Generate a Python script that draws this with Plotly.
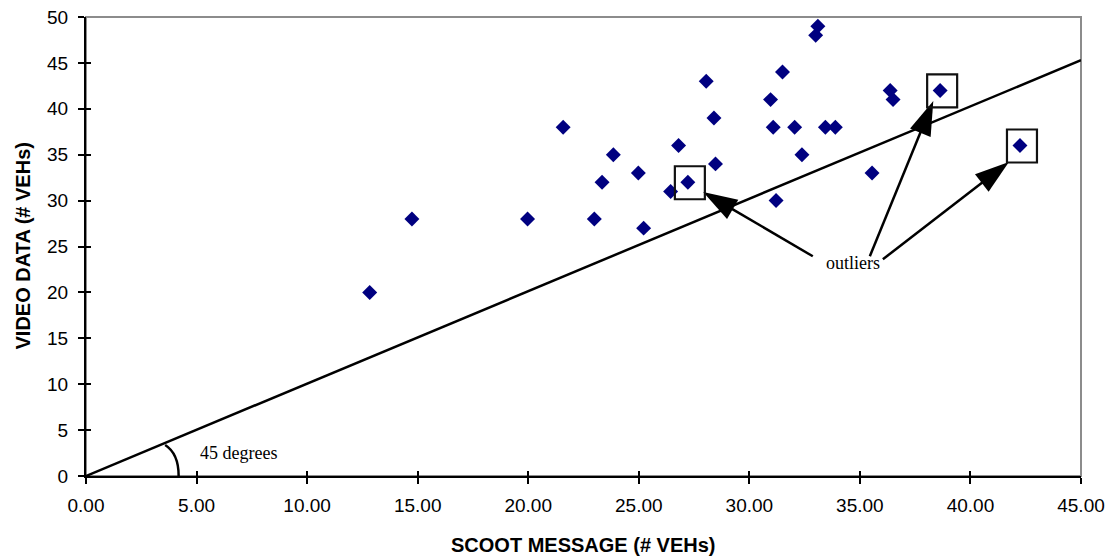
import plotly.graph_objects as go

# ---- data ----
scoot = [12.83, 14.74, 19.97, 21.58, 22.99, 23.34, 23.85, 24.98, 25.22, 26.44,
         26.80, 27.22, 28.05, 28.40, 28.47, 30.96, 31.08, 31.21, 31.50, 32.05,
         32.38, 33.00, 33.10, 33.44, 33.89, 35.55, 36.37, 36.50, 38.63, 42.24]
video = [20, 28, 28, 38, 28, 32, 35, 33, 27, 31,
         36, 32, 43, 39, 34, 41, 38, 30, 44, 38,
         35, 48, 49, 38, 38, 33, 42, 41, 42, 36]

outlier_x = [27.22, 38.63, 42.24]
outlier_y = [32, 42, 36]

ref_line_x = [0, 45]
ref_line_y = [0, 45.3]

# arrows: tail (near label) -> tip (at box)
arrow_tail_x = [32.87, 35.45, 36.04]
arrow_tail_y = [23.94, 23.94, 23.61]
arrow_tip_x = [27.91, 38.32, 41.74]
arrow_tip_y = [30.94, 40.84, 34.20]

x_ticks = [0, 5, 10, 15, 20, 25, 30, 35, 40, 45]
y_ticks = [0, 5, 10, 15, 20, 25, 30, 35, 40, 45, 50]

fig = go.Figure()

fig.add_trace(go.Scatter(x=ref_line_x, y=ref_line_y, mode="lines",
                         line=dict(color="black", width=2.5),
                         showlegend=False, hoverinfo="skip"))

fig.add_trace(go.Scatter(x=scoot, y=video, mode="markers",
                         marker=dict(symbol="diamond", size=11.5, color="#000080"),
                         showlegend=False))

# arrows
for tx, ty, hx, hy in zip(arrow_tail_x, arrow_tail_y, arrow_tip_x, arrow_tip_y):
    fig.add_trace(go.Scatter(x=[tx, hx], y=[ty, hy], mode="lines+markers",
                             line=dict(color="black", width=2.5),
                             marker=dict(symbol=["circle", "arrow"], size=[0, 36],
                                         angleref="previous", color="black",
                                         opacity=1, line=dict(width=0, color="black")),
                             showlegend=False, hoverinfo="skip"))

# dummy trace for overlay axes (inner half of cross ticks)
fig.add_trace(go.Scatter(x=[None], y=[None], xaxis="x2", yaxis="y2",
                         showlegend=False, hoverinfo="skip"))

# boxes round the outliers
for ox, oy in zip(outlier_x, outlier_y):
    fig.add_shape(type="rect", xref="x", yref="y",
                  xsizemode="pixel", ysizemode="pixel",
                  xanchor=ox, yanchor=oy,
                  x0=-13, x1=17, y0=-17, y1=16,
                  line=dict(color="#111111", width=2.2), fillcolor="rgba(0,0,0,0)")

# 45 degree arc
fig.add_shape(type="path", xref="x", yref="y",
              path="M 3.58,3.37 Q 4.19,2.43 4.19,0",
              line=dict(color="black", width=2.5))

# gray plot frame
fig.add_shape(type="rect", xref="paper", yref="paper", x0=0, x1=1, y0=0, y1=1,
              line=dict(color="#8c8c8c", width=2), layer="below")

fig.add_annotation(x=5.05, y=2.56, xref="x", yref="y", text="45 degrees",
                   showarrow=False, xanchor="left", yanchor="middle",
                   font=dict(family="Liberation Serif", size=18, color="black"))
fig.add_annotation(x=34.67, y=23.2, xref="x", yref="y", text="outliers",
                   showarrow=False, xanchor="center", yanchor="middle",
                   font=dict(family="Liberation Serif", size=18, color="black"))

# axis titles
fig.add_annotation(x=0.5, y=0, xref="paper", yref="paper", yshift=-69,
                   text="<b>SCOOT MESSAGE (# VEHs)</b>", showarrow=False,
                   xanchor="center", yanchor="middle",
                   font=dict(family="Liberation Sans", size=20, color="black"))
fig.add_annotation(x=0, y=0.5, xref="paper", yref="paper", xshift=-64,
                   text="<b>VIDEO DATA (# VEHs)</b>", showarrow=False, textangle=-90,
                   xanchor="center", yanchor="middle",
                   font=dict(family="Liberation Sans", size=20, color="black"))

axis_font = dict(family="Liberation Sans", size=19, color="black")
fig.update_layout(
    width=1105, height=550,
    margin=dict(l=78, r=32, t=9, b=82, autoexpand=False),
    paper_bgcolor="white", plot_bgcolor="white",
    xaxis=dict(range=[0, 45], tickvals=x_ticks, tickformat=".2f",
               showgrid=False, zeroline=False, showline=True, automargin=False,
               linecolor="black", linewidth=2, ticks="outside", ticklen=6,
               tickwidth=1.5, tickcolor="black", tickfont=axis_font,
               ticklabelstandoff=5, ticklabeloverflow="allow"),
    yaxis=dict(range=[0, 50], tickvals=y_ticks,
               showgrid=False, zeroline=False, showline=True, automargin=False,
               linecolor="black", linewidth=2, ticks="outside", ticklen=6,
               tickwidth=1.5, tickcolor="black", tickfont=axis_font,
               ticklabelstandoff=6, ticklabeloverflow="allow"),
    xaxis2=dict(range=[0, 45], tickvals=x_ticks, overlaying="x", anchor="y2",
                side="bottom", showgrid=False, zeroline=False, showline=False,
                ticks="inside", ticklen=5, tickwidth=1.5, tickcolor="black",
                showticklabels=False, automargin=False),
    yaxis2=dict(range=[0, 50], tickvals=y_ticks, overlaying="y", anchor="x2",
                side="left", showgrid=False, zeroline=False, showline=False,
                ticks="inside", ticklen=5, tickwidth=1.5, tickcolor="black",
                showticklabels=False, automargin=False),
)

fig.write_html("out.html")
